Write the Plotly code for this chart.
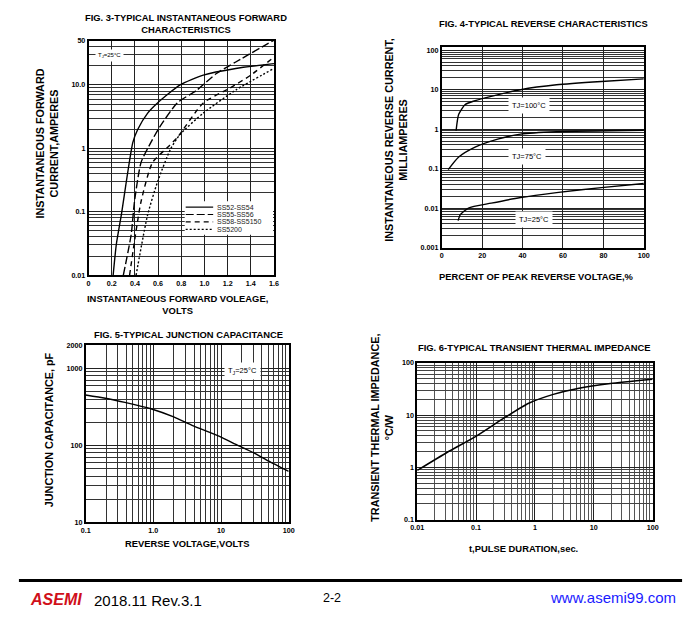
import plotly.graph_objects as go

FONT = "Arial, Liberation Sans, sans-serif"

# FIG. 3 forward characteristics (volts, amperes)
ss52_v = [0.212, 0.24, 0.283, 0.382, 0.425, 0.51, 0.595, 0.79, 0.99, 1.27, 1.6]
ss52_i = [0.01, 0.031, 0.09, 1.24, 2.0, 3.6, 5.2, 10, 14.3, 18.2, 21.7]
ss55_v = [0.30, 0.368, 0.396, 0.453, 0.538, 0.609, 0.765, 0.935, 1.10, 1.27, 1.6]
ss55_i = [0.01, 0.044, 0.144, 0.6, 1.24, 2.1, 5.2, 8.3, 15, 23, 51]
ss58_v = [0.354, 0.453, 0.552, 0.68, 0.765, 0.99, 1.218, 1.40, 1.6]
ss58_i = [0.01, 0.145, 0.6, 1.03, 1.48, 5.2, 8.9, 14.3, 27.5]
ss5200_v = [0.41, 0.51, 0.595, 0.708, 0.79, 0.99, 1.27, 1.6]
ss5200_i = [0.01, 0.09, 0.295, 0.98, 1.66, 3.6, 8.3, 18.2]
fwd_names = ["SS52-SS54", "SS55-SS56", "SS58-SS5150", "SS5200"]

# FIG. 4 reverse characteristics (% of peak reverse voltage, mA)
tj100_pct = [7.1, 8.4, 11.6, 15.6, 24.5, 39, 56.8, 79, 100]
tj100_ma = [0.91, 2.37, 4.2, 5.1, 6.8, 10, 13.3, 16.2, 18.8]
tj75_pct = [3.2, 8.4, 16.5, 27.7, 39, 56.8, 100]
tj75_ma = [0.094, 0.196, 0.35, 0.56, 0.75, 0.86, 0.94]
tj25_pct = [8.1, 9.2, 13.2, 24.5, 39, 56.8, 79, 100]
tj25_ma = [0.0048, 0.0068, 0.01, 0.0133, 0.0185, 0.0247, 0.033, 0.042]

# FIG. 5 junction capacitance (volts, pF)
cap_v = [0.1, 0.195, 0.38, 0.92, 2.0, 3.9, 9.5, 16.6, 32, 50, 100]
cap_pf = [452, 410, 362, 299, 234, 179, 131, 103, 78.5, 63, 46]

# FIG. 6 transient thermal impedance (sec, degC/W)
pulse_t = [0.01, 0.032, 0.101, 0.30, 0.785, 2.05, 5.35, 19.2, 100]
therm_z = [0.87, 1.92, 3.96, 8.8, 16.8, 24.9, 32.3, 40.2, 48.4]

# the page has an 8px body margin, so the figure is 684x620 and
# positions below are given in pixels of the whole 700x636 picture
W, H, OFF = 684, 620, 8


def X(px):
    return (px - OFF) / W


def Y(py):
    return 1 - (py - OFF) / H


def minor_vals(decades, extra=()):
    return [d * k for d in decades for k in range(2, 10)] + list(extra)


fig = go.Figure()

dashes = ["solid", "8px,3px", "5px,4px", "2px,2px"]
for name, xs, ys, dash in zip(fwd_names, [ss52_v, ss55_v, ss58_v, ss5200_v],
                              [ss52_i, ss55_i, ss58_i, ss5200_i], dashes):
    fig.add_trace(go.Scatter(x=xs, y=ys, mode="lines", name=name, showlegend=False,
                             line=dict(color="black", width=1.4, dash=dash, shape="spline", smoothing=0.6),
                             xaxis="x", yaxis="y"))

for xs, ys in [(tj100_pct, tj100_ma), (tj75_pct, tj75_ma), (tj25_pct, tj25_ma)]:
    fig.add_trace(go.Scatter(x=xs, y=ys, mode="lines", showlegend=False,
                             line=dict(color="black", width=1.4, shape="spline", smoothing=0.6),
                             xaxis="x2", yaxis="y2"))

fig.add_trace(go.Scatter(x=cap_v, y=cap_pf, mode="lines", showlegend=False,
                         line=dict(color="black", width=1.4, shape="spline", smoothing=0.6),
                         xaxis="x3", yaxis="y3"))
fig.add_trace(go.Scatter(x=pulse_t, y=therm_z, mode="lines", showlegend=False,
                         line=dict(color="black", width=1.5, shape="spline", smoothing=0.5),
                         xaxis="x4", yaxis="y4"))

tickfont = dict(family=FONT, size=7.2, color="black", weight="bold")
axis_common = dict(showline=True, linecolor="black", linewidth=1.5, mirror=True,
                   showgrid=True, gridcolor="#222", gridwidth=1, ticks="",
                   tickfont=tickfont, zeroline=False, ticklen=0)


def minor(vals, color="#333"):
    return dict(tickvals=vals, showgrid=True, gridcolor=color, gridwidth=1, ticks="")


fig.update_layout(
    width=W, height=H, autosize=False,
    margin=dict(l=0, r=0, t=0, b=0),
    paper_bgcolor="white", plot_bgcolor="white",
    font=dict(family=FONT, color="black"),
    xaxis=dict(axis_common, domain=[X(83), X(272)], range=[0, 1.6],
               tickvals=[0, 0.2, 0.4, 0.6, 0.8, 1.0, 1.2, 1.4, 1.6],
               ticktext=["0", "0.2", "0.4", "0.6", "0.8", "1.0", "1.2", "1.4", "1.6"], anchor="y"),
    yaxis=dict(axis_common, domain=[Y(275), Y(37)], type="log", range=[-2, 1.7],
               tickvals=[0.01, 0.1, 1, 10, 50], ticktext=["0.01", "0.1", "1", "10.0", "50"],
               minor=minor(minor_vals([0.01, 0.1, 1], extra=[20, 30, 40])), anchor="x"),
    xaxis2=dict(axis_common, domain=[X(443), X(649)], range=[0, 100],
                tickvals=[0, 20, 40, 60, 80, 100], anchor="y2"),
    yaxis2=dict(axis_common, domain=[Y(247), Y(44)], type="log", range=[-3, 2.07],
                tickvals=[0.001, 0.01, 0.1, 1, 10, 100],
                ticktext=["0.001", "0.01", "0.1", "1", "10", "100"],
                minor=minor(minor_vals([0.001, 0.01, 0.1, 1, 10])), anchor="x2"),
    xaxis3=dict(axis_common, domain=[X(80), X(287)], type="log", range=[-1, 2],
                tickvals=[0.1, 1, 10, 100], ticktext=["0.1", "1.0", "10", "100"],
                minor=minor(minor_vals([0.1, 1, 10])), anchor="y3"),
    yaxis3=dict(axis_common, domain=[Y(526), Y(346)], type="log", range=[1, 3.302],
                tickvals=[10, 100, 1000, 2000], ticktext=["10", "100", "1000", "2000"],
                minor=minor(minor_vals([10, 100])), anchor="x3"),
    xaxis4=dict(axis_common, domain=[X(418), X(658)], type="log", range=[-2, 2],
                tickvals=[0.01, 0.1, 1, 10, 100], ticktext=["0.01", "0.1", "1", "10", "100"],
                minor=minor(minor_vals([0.01, 0.1, 1, 10]), color="#555"), anchor="y4"),
    yaxis4=dict(axis_common, domain=[Y(523), Y(364)], type="log", range=[-1, 2],
                tickvals=[0.1, 1, 10, 100], ticktext=["0.1", "1", "10", "100"],
                minor=minor(minor_vals([0.1, 1, 10]), color="#444"), anchor="x4"),
)


def note(text, x, y, size=9.4, bold=True, color="black", angle=0, bg=None, xanchor="center", pad=1):
    fig.add_annotation(text=f"<b>{text}</b>" if bold else text, x=X(x), y=Y(y),
                       xref="paper", yref="paper", showarrow=False, textangle=angle,
                       xanchor=xanchor, yanchor="middle", bgcolor=bg, borderpad=pad,
                       font=dict(family=FONT, size=size, color=color))


def px_line(x0, x1, y, dash="solid", width=1.4):
    fig.add_shape(type="line", xref="paper", yref="paper", x0=X(x0), x1=X(x1),
                  y0=Y(y), y1=Y(y), line=dict(color="black", width=width, dash=dash))


# figure titles
note("FIG. 3-TYPICAL INSTANTANEOUS FORWARD<br>CHARACTERISTICS", 182, 20)
note("FIG. 4-TYPICAL REVERSE CHARACTERISTICS", 547, 20)
note("FIG. 5-TYPICAL JUNCTION CAPACITANCE", 185, 335)
note("FIG. 6-TYPICAL TRANSIENT THERMAL IMPEDANCE", 537, 348)

# axis titles
note("INSTANTANEOUS FORWARD<br>CURRENT,AMPERES", 41, 141, size=10.8, angle=-90)
note("INSTANTANEOUS FORWARD VOLEAGE,<br>VOLTS", 174, 305)
note("INSTANTANEOUS REVERSE CURRENT,<br>MILLIAMPERES", 396, 138, size=10.8, angle=-90)
note("PERCENT OF PEAK REVERSE VOLTAGE,%", 540, 276)
note("JUNCTION CAPACITANCE, pF", 43, 432, size=10.8, angle=-90)
note("REVERSE VOLTAGE,VOLTS", 184, 547)
note("TRANSIENT THERMAL IMPEDANCE,<br>°C/W", 382, 430, size=10.8, angle=-90)
note("t,PULSE DURATION,sec.", 526, 552)

# in-plot labels
note("T<sub>J</sub>=25°C", 104, 52, size=6, bold=False, bg="white", pad=2)
note("TJ=100°C", 532, 103, size=7.5, bold=False, bg="white", pad=3)
note("TJ=75°C", 530, 155, size=7.5, bold=False, bg="white", pad=3)
note("TJ=25°C", 537, 219, size=7.5, bold=False, bg="white", pad=3)
note("T<sub>J</sub>=25°C", 240, 372, size=7.5, bold=False, bg="white", pad=3)

# legend box for fig 3
fig.add_shape(type="rect", xref="paper", yref="paper", x0=X(181), x1=X(271),
              y0=Y(234), y1=Y(200), fillcolor="white", line=dict(width=0))
for i, (name, dash) in enumerate(zip(fwd_names, dashes)):
    yy = 206 + i * 7.5
    px_line(182, 210, yy, dash=dash, width=1.2)
    note(name, 213, yy, size=7, bold=False, color="#222", xanchor="left", pad=0)

# footer
px_line(12, 688, 585, width=3)
note("<i>ASEMI</i>", 21, 604, size=16, color="#d0101a", xanchor="left")
note("2018.11 Rev.3.1", 86, 605, size=15, bold=False, xanchor="left")
note("2-2", 331, 603, size=12.5, bold=False)
note("www.asemi99.com", 551, 602, size=15, bold=False, color="#1a1aff", xanchor="left")

fig.write_html("out.html")
